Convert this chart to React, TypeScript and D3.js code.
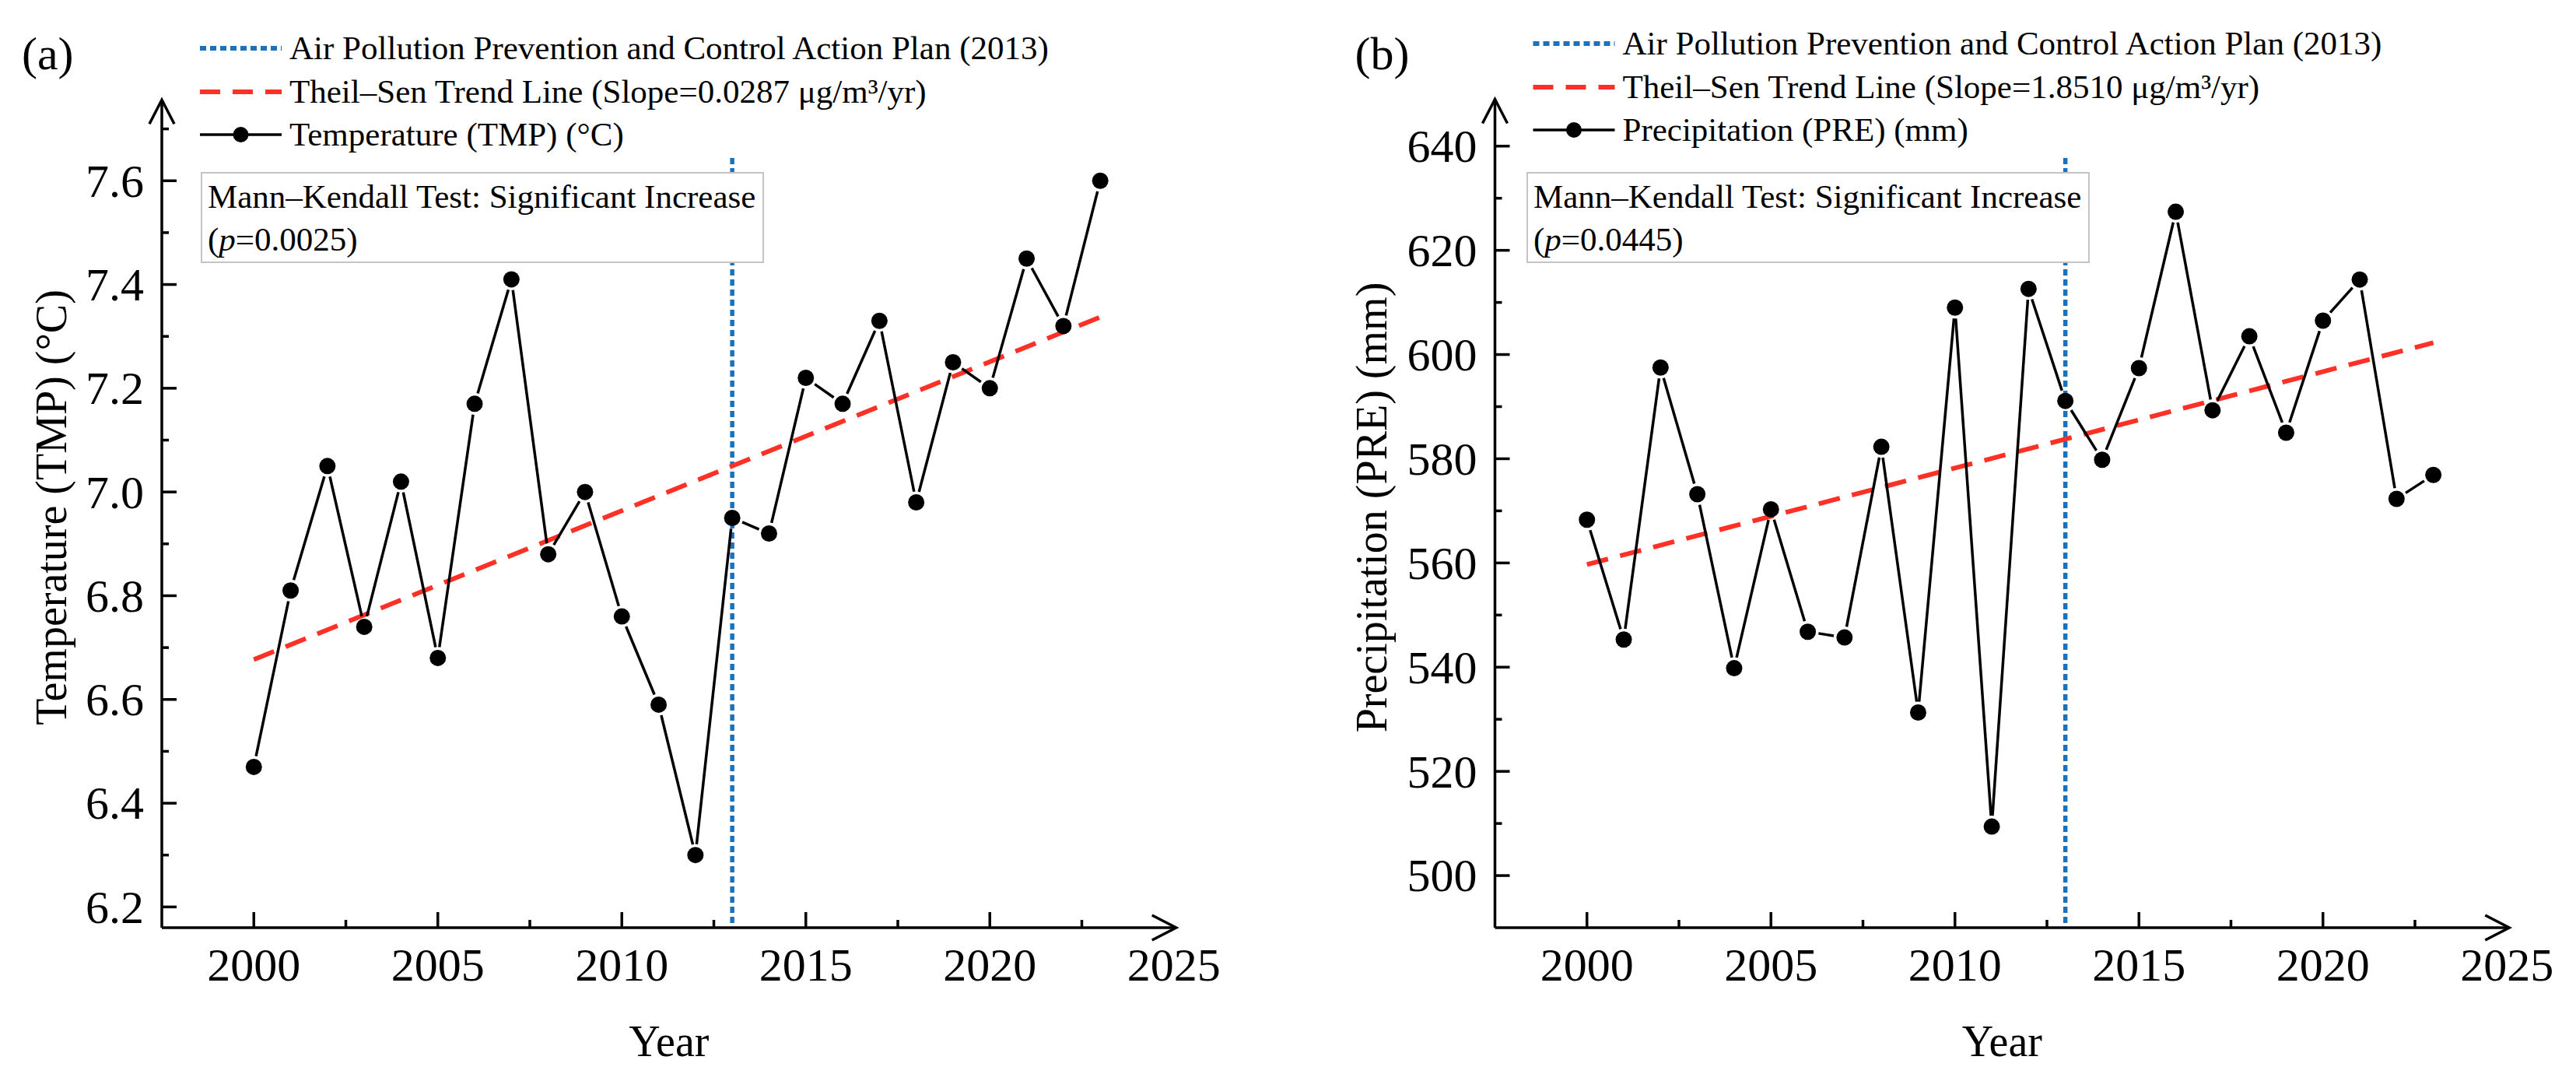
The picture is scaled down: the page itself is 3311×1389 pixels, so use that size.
import React from 'react';
import * as d3 from 'd3';

const years = [2000, 2001, 2002, 2003, 2004, 2005, 2006, 2007, 2008, 2009, 2010, 2011,
  2012, 2013, 2014, 2015, 2016, 2017, 2018, 2019, 2020, 2021, 2022, 2023];

const tmpValues = [6.47, 6.81, 7.05, 6.74, 7.02, 6.68, 7.17, 7.41, 6.88, 7.0, 6.76, 6.59,
  6.3, 6.95, 6.92, 7.22, 7.17, 7.33, 6.98, 7.25, 7.2, 7.45, 7.32, 7.6];

const preValues = [568.3, 545.3, 597.5, 573.2, 539.8, 570.3, 546.8, 545.7, 582.3, 531.3, 609.0, 509.4,
  612.6, 591.1, 579.8, 597.4, 627.4, 589.3, 603.5, 585.0, 606.5, 614.4, 572.3, 576.9];

// Theil–Sen trend: value at 2000 and slope per year
const tmpTrend = [6.677, 0.0287];
const preTrend = [559.7, 1.851];

const policyYear = 2013;

const xTicks = [2000, 2005, 2010, 2015, 2020, 2025];
const xMinorTicks = [2002.5, 2007.5, 2012.5, 2017.5, 2022.5];
const tmpTicks = [6.2, 6.4, 6.6, 6.8, 7.0, 7.2, 7.4, 7.6];
const tmpMinorTicks = [6.3, 6.5, 6.7, 6.9, 7.1, 7.3, 7.5, 7.7];
const preTicks = [500, 520, 540, 560, 580, 600, 620, 640];
const preMinorTicks = [510, 530, 550, 570, 590, 610, 630];

const FONT = "'Liberation Serif', 'Times New Roman', serif";
const BLUE = '#1a72bd';
const RED = '#ff3126';

interface PanelProps {
  left: number;
  letter: string;
  yDomain: [number, number];
  yTop: number;
  yTicks: number[];
  yMinor: number[];
  yFmt: (v: number) => string;
  values: number[];
  trend: number[];
  slopeText: string;
  seriesLabel: string;
  yTitle: string;
  yTitleX: number;
  pText: string;
  boxLeft: number;
  legendTop: number;
}

const Panel: React.FC<PanelProps> = ({
  left, letter, yDomain, yTop, yTicks, yMinor, yFmt, values, trend,
  slopeText, seriesLabel, yTitle, yTitleX, pText, boxLeft, legendTop
}) => {
  const bottom = 1192;
  const x = d3.scaleLinear().domain([1997.5, 2025]).range([left, left + 1300.75]);
  const y = d3.scaleLinear().domain(yDomain).range([bottom, yTop]);
  const xEnd = x(2025) + 3;
  const gap = 14;

  const pts = years.map((yr, i) => [x(yr), y(values[i])]);
  const segs = pts.slice(1).map((p, i) => {
    const a = pts[i];
    const dx = p[0] - a[0];
    const dy = p[1] - a[1];
    const len = Math.sqrt(dx * dx + dy * dy);
    const ux = dx / len, uy = dy / len;
    return [a[0] + ux * gap, a[1] + uy * gap, p[0] - ux * gap, p[1] - uy * gap];
  });

  const y0 = years[0];
  const y1 = years[years.length - 1];
  const trendLine = d3.line<number>()
    .x(d => x(d))
    .y(d => y(trend[0] + trend[1] * (d - y0)));

  const rows = [legendTop, legendTop + 56, legendTop + 111];
  const sx0 = left + 49, sx1 = left + 154, tx = left + 164;

  return (
    <g fontFamily={FONT} fill="#000">
      <text x={left - 180} y={89} fontSize={60} fontFamily={FONT}>{letter}</text>

      {/* legend */}
      <line x1={sx0} x2={sx1} y1={rows[0]} y2={rows[0]} stroke={BLUE} strokeWidth={6} strokeDasharray="8 5" />
      <line x1={sx0} x2={sx1} y1={rows[1]} y2={rows[1]} stroke={RED} strokeWidth={6} strokeDasharray="26 16" />
      <line x1={sx0} x2={sx1} y1={rows[2]} y2={rows[2]} stroke="#000" strokeWidth={3.5} />
      <circle cx={(sx0 + sx1) / 2} cy={rows[2]} r={10} fill="#000" />
      <text x={tx} y={rows[0] + 14} fontSize={43} fontFamily={FONT}>Air Pollution Prevention and Control Action Plan (2013)</text>
      <text x={tx} y={rows[1] + 14} fontSize={43} fontFamily={FONT}>{slopeText}</text>
      <text x={tx} y={rows[2] + 14} fontSize={43} fontFamily={FONT}>{seriesLabel}</text>

      {/* policy year line */}
      <line x1={x(policyYear)} x2={x(policyYear)} y1={203} y2={bottom}
        stroke={BLUE} strokeWidth={5.5} strokeDasharray="8 5" />

      {/* Mann-Kendall box */}
      <rect x={boxLeft} y={222} width={722} height={115} fill="#fff" stroke="#c4c4c4" strokeWidth={2} />
      <text x={boxLeft + 8} y={267} fontSize={43} fontFamily={FONT}>Mann–Kendall Test: Significant Increase</text>
      <text x={boxLeft + 8} y={322} fontSize={43} fontFamily={FONT}>(<tspan fontStyle="italic">p</tspan>={pText})</text>

      {/* trend */}
      <path d={trendLine([y0, y1]) || ''} fill="none" stroke={RED} strokeWidth={6} strokeDasharray="28 16" />

      {/* series */}
      {segs.map((s, i) => (
        <line key={i} x1={s[0]} y1={s[1]} x2={s[2]} y2={s[3]} stroke="#000" strokeWidth={3.5} />
      ))}
      {pts.map((p, i) => <circle key={i} cx={p[0]} cy={p[1]} r={10.5} fill="#000" />)}

      {/* axes */}
      <g stroke="#000" strokeWidth={3.5} fill="none">
        <line x1={left} x2={xEnd} y1={bottom} y2={bottom} />
        <path d={`M${xEnd - 31},${bottom - 16} L${xEnd},${bottom} L${xEnd - 31},${bottom + 16}`} />
        <line x1={left} x2={left} y1={bottom} y2={yTop} />
        <path d={`M${left - 16},${yTop + 31} L${left},${yTop} L${left + 16},${yTop + 31}`} />
        {xTicks.filter(t => t < 2025).map(t => (
          <line key={t} x1={x(t)} x2={x(t)} y1={bottom} y2={bottom - 20} />
        ))}
        {xMinorTicks.map(t => (
          <line key={t} x1={x(t)} x2={x(t)} y1={bottom} y2={bottom - 10} />
        ))}
        {yTicks.map(t => (
          <line key={t} x1={left} x2={left + 19} y1={y(t)} y2={y(t)} />
        ))}
        {yMinor.map(t => (
          <line key={t} x1={left} x2={left + 9} y1={y(t)} y2={y(t)} />
        ))}
      </g>
      {xTicks.map(t => (
        <text key={t} x={x(t)} y={1260} fontSize={60} fontFamily={FONT} textAnchor="middle">{t}</text>
      ))}
      {yTicks.map(t => (
        <text key={t} x={left - 23} y={y(t)} dy="0.34em" fontSize={60} fontFamily={FONT} textAnchor="end">{yFmt(t)}</text>
      ))}
      <text x={(left + xEnd) / 2} y={1357} fontSize={56} fontFamily={FONT} textAnchor="middle">Year</text>
      <text transform={`translate(${yTitleX},652) rotate(-90)`} fontSize={56} fontFamily={FONT} textAnchor="middle">{yTitle}</text>
    </g>
  );
};

export default function App() {
  return (
    <svg width={3311} height={1389} viewBox="0 0 3311 1389"
      style={{ position: 'absolute', left: 0, top: 0, background: '#fff' }}>
      <rect width={3311} height={1389} fill="#fff" />
      <Panel
        left={208}
        letter="(a)"
        yDomain={[6.16, 7.756]}
        yTop={128.3}
        yTicks={tmpTicks}
        yMinor={tmpMinorTicks}
        yFmt={d3.format('.1f')}
        values={tmpValues}
        trend={tmpTrend}
        slopeText="Theil–Sen Trend Line (Slope=0.0287 μg/m³/yr)"
        seriesLabel="Temperature (TMP) (°C)"
        yTitle="Temperature (TMP) (°C)"
        yTitleX={85}
        pText="0.0025"
        boxLeft={259}
        legendTop={62}
      />
      <Panel
        left={1921.5}
        letter="(b)"
        yDomain={[490, 649]}
        yTop={127.5}
        yTicks={preTicks}
        yMinor={preMinorTicks}
        yFmt={d3.format('d')}
        values={preValues}
        trend={preTrend}
        slopeText="Theil–Sen Trend Line (Slope=1.8510 μg/m³/yr)"
        seriesLabel="Precipitation (PRE) (mm)"
        yTitle="Precipitation (PRE) (mm)"
        yTitleX={1782}
        pText="0.0445"
        boxLeft={1963}
        legendTop={56}
      />
    </svg>
  );
}
